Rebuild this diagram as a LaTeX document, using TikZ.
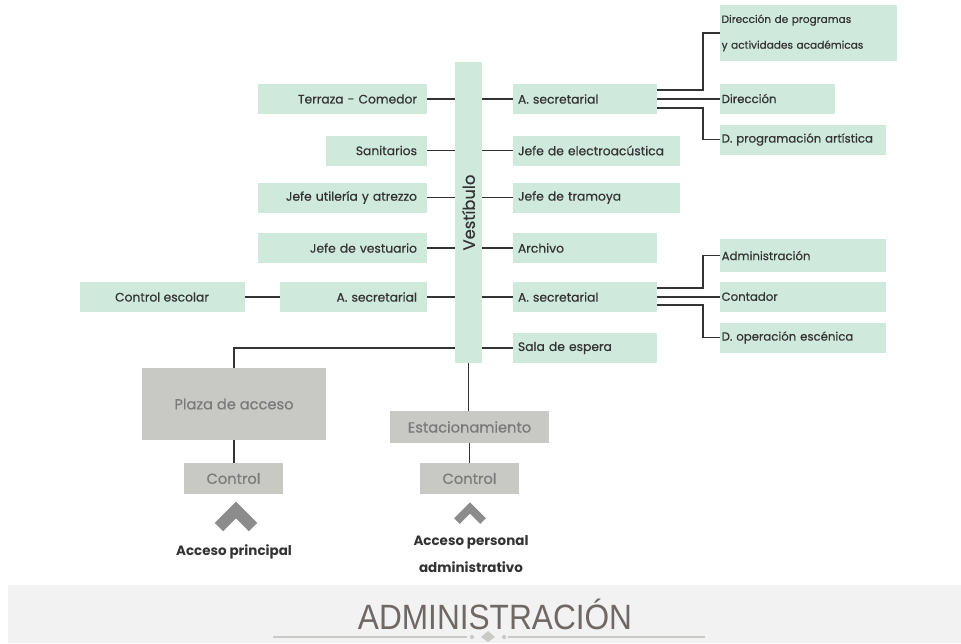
\documentclass[tikz,border=0pt]{standalone}
\usepackage{fontspec}
\usepackage{xcolor}
\usepackage{tikz}
\usetikzlibrary{positioning}
\setmainfont{Poppins}[UprightFeatures={FakeBold=0.5}]
\newfontfamily\titlefont[FakeStretch=0.9]{Liberation Sans}
\definecolor{mint}{HTML}{D0E9DD}
\definecolor{stone}{HTML}{C8C8C4}
\definecolor{ink}{HTML}{333333}
\definecolor{slate}{HTML}{7A7A7A}
\definecolor{pebble}{HTML}{8C8C8C}
\definecolor{band}{HTML}{F2F2F2}
\definecolor{rule}{HTML}{C9C9C5}
\definecolor{heading}{HTML}{6F6865}

\begin{document}
\begin{tikzpicture}[x=0.03cm,y=-0.03cm,font=\fontsize{10.5}{12}\selectfont,
  box/.style={fill=mint,text=ink,inner ysep=0pt,minimum height=0.9cm},
  lft/.style={box,align=right,inner xsep=0.3cm,text width=#1},
  rgt/.style={box,align=left,inner xsep=0.15cm,text width=#1},
  far/.style={box,align=left,inner xsep=0.05cm,text width=#1,font=\fontsize{10}{12}\selectfont},
  zone/.style={fill=stone,text=slate,inner sep=0pt,minimum width=#1,font=\fontsize{12.5}{14}\selectfont},
  link/.style={draw=ink,line width=1.5pt},
  chev/.style={draw=pebble,line width=#1},
  entry/.style={text=ink,font=\bfseries\fontsize{11.5}{23}\selectfont,align=center}]
\useasboundingbox (0,0) rectangle (961,643);

\node[box,minimum width=0.81cm,minimum height=9.03cm,
  label={[rotate=90,text=ink,font=\fontsize{14}{14}\selectfont]center:Vestíbulo}] (vest) at (468.5,212.5) {};

\node[lft=4.47cm] (terr) at (342.5,99) {Terraza - Comedor};
\node[lft=2.43cm] (sani) at (376.5,150.5) {Sanitarios};
\node[lft=4.47cm] (util) at (342.5,197.5) {Jefe utilería y atrezzo};
\node[lft=4.47cm] (vstu) at (342.5,248) {Jefe de vestuario};
\node[lft=3.81cm] (secl) at (353.5,297) {A. secretarial};
\node[box,minimum width=4.95cm,left=1.05cm of secl] (esco) {Control escolar};

\node[rgt=4.02cm] (seca) at (585,99) {A. secretarial};
\node[rgt=4.71cm] (elec) at (596.5,150.5) {Jefe de electroacústica};
\node[rgt=4.71cm] (tram) at (596.5,197.5) {Jefe de tramoya};
\node[rgt=4.02cm] (arch) at (585,248) {Archivo};
\node[rgt=4.02cm] (secb) at (585,297) {A. secretarial};
\node[rgt=4.02cm] (sala) at (585,348) {Sala de espera};

\node[far=5.21cm,minimum height=1.68cm,font=\fontsize{9}{22}\selectfont] (prog) at (808.5,33) {Dirección de programas\\ y actividades académicas};
\node[far=3.35cm] (dire) at (777.5,98.5) {Dirección};
\node[far=4.88cm] (arti) at (803,139.5) {D. programación artística};
\node[far=4.88cm,minimum height=0.99cm] (admi) at (803,255.5) {Administración};
\node[far=4.88cm] (cont) at (803,296.5) {Contador};
\node[far=4.88cm] (esce) at (803,337.5) {D. operación escénica};

\node[zone=5.52cm,minimum height=2.16cm] (plaz) at (234,404) {Plaza de acceso};
\node[zone=4.77cm,minimum height=0.96cm] (esta) at (469.5,427) {Estacionamiento};
\node[zone=2.97cm,minimum height=0.93cm] (ctla) at (233.5,478.5) {Control};
\node[zone=2.97cm,minimum height=0.93cm] (ctlb) at (469.5,478.5) {Control};
\node[entry] (prin) at (234,552) {Acceso principal};
\node[entry] (pers) at (471,554) {Acceso personal\\ administrativo};

\foreach \n in {terr,sani,util,vstu,secl}
  \draw[link] (\n.east) -- (\n.east -| vest.west);
\foreach \n in {seca,elec,tram,arch,secb,sala}
  \draw[link] (\n.west) -- (\n.west -| vest.east);
\draw[link] (esco) -- (secl);

\draw[link] ([yshift=0.27cm]seca.east) -| ([xshift=-0.51cm]prog.west) -- (prog.west);
\draw[link] (seca.east) -- (seca.east -| dire.west);
\draw[link] ([yshift=-0.27cm]seca.east) -| ([xshift=-0.51cm]arti.west) -- (arti.west);
\draw[link] ([yshift=0.27cm]secb.east) -| ([xshift=-0.51cm]admi.west) -- (admi.west);
\draw[link] (secb.east) -- (secb.east -| cont.west);
\draw[link] ([yshift=-0.24cm]secb.east) -| ([xshift=-0.51cm]esce.west) -- (esce.west);

\draw[link] (sala.west -| vest.west) -| (plaz.north);
\draw[link] (vest.south) -- (vest.south |- esta.north);
\draw[link] (plaz.south) -- (plaz.south |- ctla.north);
\draw[link] (esta.south) -- (esta.south |- ctlb.north);

\draw[chev=0.36cm] (219,527) -- (236,510) -- (253,527);
\draw[chev=0.24cm] (457,521) -- (470,508) -- (483,521);

\fill[band] (8,585) rectangle (961,643);
\node[text=heading,font=\titlefont\fontsize{30}{30}\selectfont] (titl) at (495,614) {ADMINISTRACIÓN};
\draw[rule,line width=0.08cm] (273,637) -- (467,637) (508,637) -- (705,637);
\fill[rule] (472,637) circle (1.8pt) (504,637) circle (1.8pt)
  (481,637) -- (488,631) -- (495,637) -- (488,642) -- cycle;
\end{tikzpicture}
\end{document}
